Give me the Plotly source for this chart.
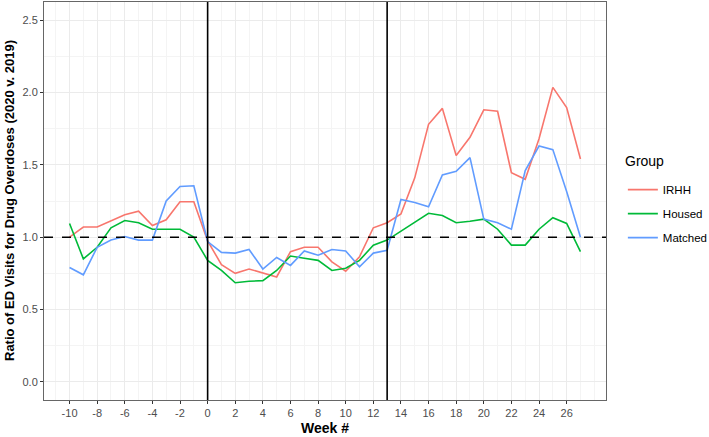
import plotly.graph_objects as go

weeks = list(range(-10, 28))

irhh = [1.00, 1.07, 1.07, 1.11, 1.155, 1.18, 1.08, 1.12, 1.245, 1.245,
        0.975, 0.81, 0.75, 0.78, 0.755, 0.725, 0.90, 0.93, 0.93, 0.83,
        0.765, 0.865, 1.065, 1.10, 1.16, 1.41, 1.78, 1.89, 1.565, 1.69,
        1.88, 1.87, 1.445, 1.40, 1.68, 2.035, 1.895, 1.54]

housed = [1.095, 0.85, 0.93, 1.065, 1.115, 1.10, 1.055, 1.055, 1.055, 1.00,
          0.84, 0.77, 0.685, 0.695, 0.70, 0.77, 0.87, 0.855, 0.84, 0.77,
          0.785, 0.84, 0.945, 0.98, 1.04, 1.10, 1.165, 1.15, 1.10, 1.11,
          1.125, 1.055, 0.945, 0.945, 1.055, 1.135, 1.095, 0.90]

matched = [0.79, 0.74, 0.93, 0.98, 1.005, 0.98, 0.98, 1.25, 1.35, 1.355,
           0.97, 0.895, 0.89, 0.915, 0.78, 0.86, 0.805, 0.905, 0.875, 0.915,
           0.905, 0.795, 0.89, 0.91, 1.26, 1.24, 1.21, 1.43, 1.455, 1.55,
           1.125, 1.10, 1.055, 1.46, 1.63, 1.605, 1.315, 1.00]

series = [("IRHH", irhh, "#F8766D"),
          ("Housed", housed, "#00BA38"),
          ("Matched", matched, "#619CFF")]

font = "Liberation Sans, Arial, sans-serif"

fig = go.Figure()
for name, vals, col in series:
    fig.add_trace(go.Scatter(x=weeks, y=vals, mode="lines", name=name,
                             legendgroup=name,
                             line=dict(color=col, width=1.6)))

# reference lines
fig.add_hline(y=1, line_width=1.5, line_dash="dash", line_color="black")
fig.add_vline(x=0, line_width=1.6, line_color="black")
fig.add_vline(x=13, line_width=1.6, line_color="black")

fig.update_layout(
    width=709, height=437,
    margin=dict(l=44, r=103, t=2, b=37, autoexpand=False),
    plot_bgcolor="white", paper_bgcolor="white",
    font=dict(family=font, size=11, color="#4D4D4D"),
    showlegend=True,
    legend=dict(font=dict(size=11.5, color="black"),
                x=1.03, xanchor="left", y=0.565, yanchor="top",
                tracegroupgap=5, itemwidth=30),
)

fig.update_xaxes(range=[-11.85, 28.85], automargin=False,
                 tickvals=list(range(-10, 27, 2)),
                 ticktext=[str(v) for v in range(-10, 27, 2)],
                 showgrid=True, gridcolor="#EBEBEB", gridwidth=1,
                 minor=dict(dtick=1, tick0=1, showgrid=True, gridcolor="#F4F4F4", gridwidth=0.6),
                 zeroline=False, showline=True, linecolor="#666666", linewidth=1, mirror=True,
                 ticks="outside", ticklen=3, tickcolor="#333333",
                 tickfont=dict(size=11, color="#4D4D4D"))
fig.update_yaxes(range=[-0.125, 2.625], automargin=False,
                 tickvals=[0, 0.5, 1, 1.5, 2, 2.5],
                 ticktext=["0.0", "0.5", "1.0", "1.5", "2.0", "2.5"],
                 showgrid=True, gridcolor="#EBEBEB", gridwidth=1,
                 minor=dict(dtick=0.25, tick0=0.25, showgrid=True, gridcolor="#F4F4F4", gridwidth=0.6),
                 zeroline=False, showline=True, linecolor="#666666", linewidth=1, mirror=True,
                 ticks="outside", ticklen=3, tickcolor="#333333",
                 tickfont=dict(size=11, color="#4D4D4D"))

# legend title, placed by hand for the wider ggplot-style gap
fig.add_annotation(text="Group", xref="paper", yref="paper", x=1.03, y=0.6,
                   xanchor="left", yanchor="middle", showarrow=False,
                   font=dict(size=14, color="black", family=font))

# axis titles
fig.add_annotation(text="<b>Week #</b>", xref="paper", yref="paper", x=0.5, y=0,
                   yshift=-28, showarrow=False, yanchor="middle",
                   font=dict(size=14, color="black", family=font))
fig.add_annotation(text="<b>Ratio of ED Visits for Drug Overdoses (2020 v. 2019)</b>",
                   xref="paper", yref="paper", x=0, y=0.5, xshift=-35,
                   textangle=-90, showarrow=False, xanchor="center",
                   font=dict(size=13, color="black", family=font))

# drop the browser's default body margin so the figure sits at the page corner
fig.write_html("out.html", config={"displayModeBar": False},
               post_script="document.body.style.margin='0';")
